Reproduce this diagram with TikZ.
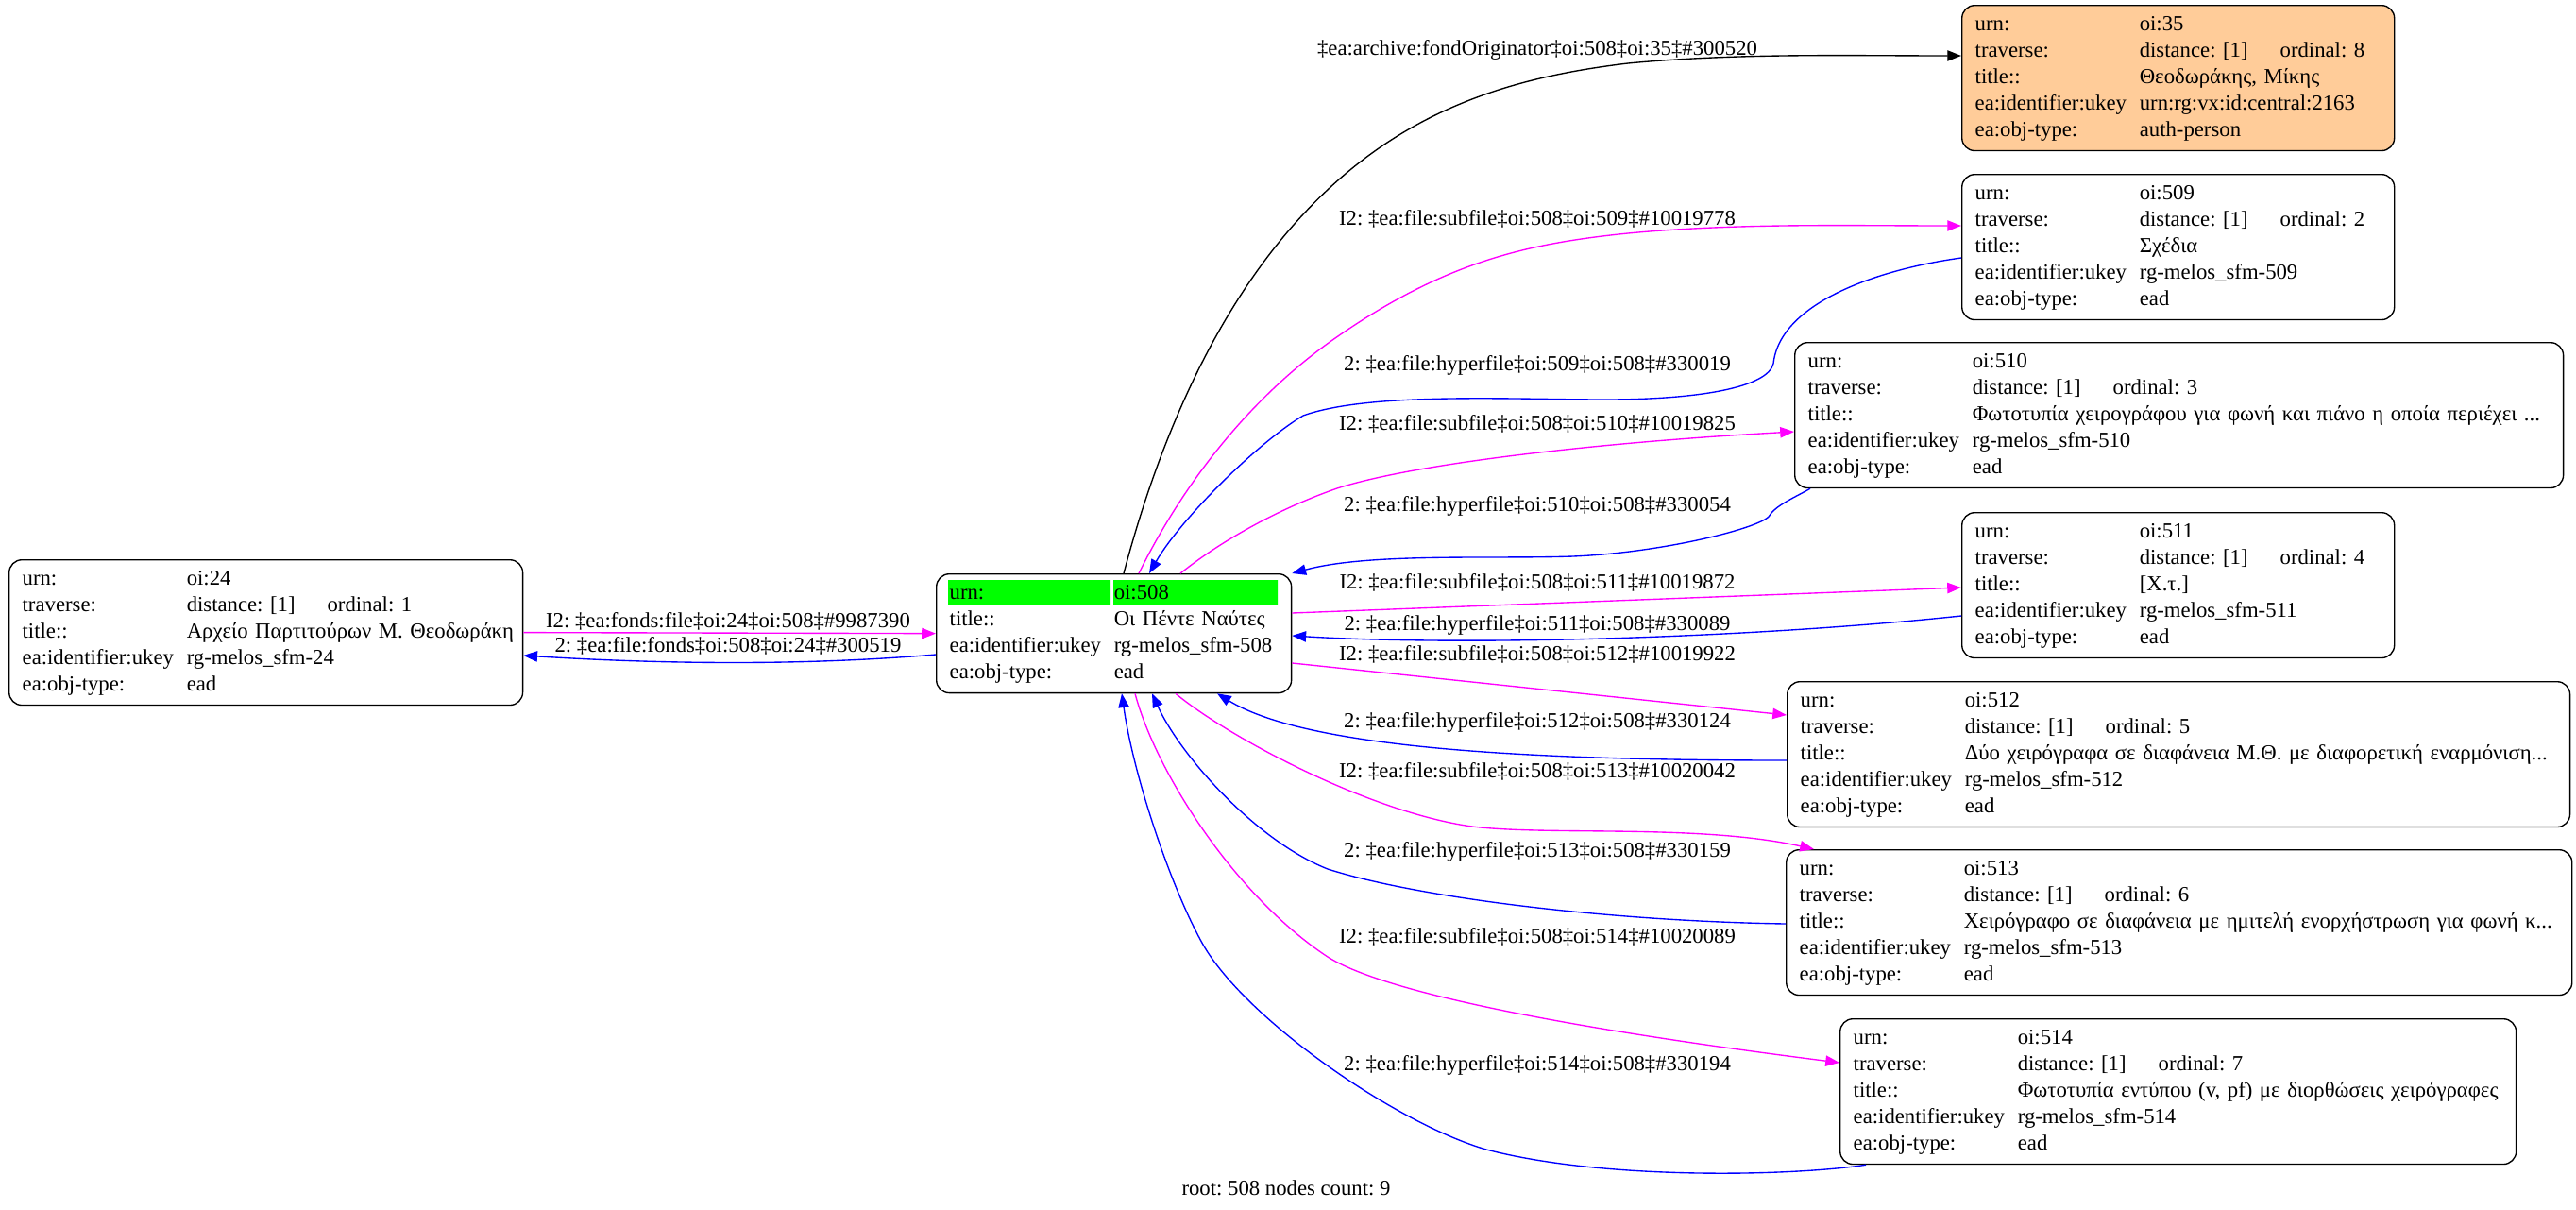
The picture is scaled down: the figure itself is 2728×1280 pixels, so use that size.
\documentclass[tikz,border=0pt]{standalone}
\usepackage{fontspec}
\setmainfont{Liberation Serif}
\usetikzlibrary{arrows.meta}
\definecolor{peach}{RGB}{255,204,153}
\definecolor{subpink}{RGB}{255,0,255}
\definecolor{hyperblue}{RGB}{0,0,255}
\definecolor{rootgreen}{RGB}{0,255,0}
\frenchspacing
\newcommand{\infotab}[5]{\noindent\begin{tabular}{@{}p{76.6pt}@{}l@{}}urn: & #1\\traverse: & \makebox[65.5pt][l]{distance: [1]}ordinal: #2\\title:: & #3\\ea:identifier:ukey & #4\\ea:obj-type: & #5\end{tabular}}
\tikzset{
  oibox/.style={draw,line width=.6pt,rounded corners=6pt,anchor=north west,inner xsep=6.16pt,inner ysep=3.1pt,align=left},
  sub/.style={subpink,line width=.6pt,->},
  hyper/.style={hyperblue,line width=.6pt,->},
  elabel/.style={inner sep=0pt}
}
\begin{document}
\begin{tikzpicture}[x=.44pt,y=-.44pt,>={Triangle[length=6.5pt,width=5pt]},font=\fontsize{10pt}{12.3pt}\selectfont]
\useasboundingbox (0,0) rectangle (2728,1280);
\fill[rootgreen] (1004,614) rectangle (1176,640) (1179,614) rectangle (1353,640);
\node[oibox,text width=227pt] (n24) at (9,592) {\infotab{oi:24}{1}{Αρχείο Παρτιτούρων Μ. Θεοδωράκη}{rg-melos\_sfm-24}{ead}};
\node[oibox,text width=153.1pt] (n508) at (991,607) {\noindent\begin{tabular}{@{}p{76.6pt}@{}l@{}}urn: & oi:508\\title:: & Οι Πέντε Ναύτες\\ea:identifier:ukey & rg-melos\_sfm-508\\ea:obj-type: & ead\end{tabular}};
\node[oibox,fill=peach,text width=189.2pt] (n35) at (2077,5) {\infotab{oi:35}{8}{Θεοδωράκης, Μίκης}{urn:rg:vx:id:central:2163}{auth-person}};
\node[oibox,text width=189.2pt] (n509) at (2077,184) {\infotab{oi:509}{2}{Σχέδια}{rg-melos\_sfm-509}{ead}};
\node[oibox,text width=345.8pt] (n510) at (1900,362) {\infotab{oi:510}{3}{Φωτοτυπία χειρογράφου για φωνή και πιάνο η οποία περιέχει ...}{rg-melos\_sfm-510}{ead}};
\node[oibox,text width=189.2pt] (n511) at (2077,542) {\infotab{oi:511}{4}{[Χ.τ.]}{rg-melos\_sfm-511}{ead}};
\node[oibox,text width=352.4pt] (n512) at (1892,721) {\infotab{oi:512}{5}{Δύο χειρόγραφα σε διαφάνεια Μ.Θ. με διαφορετική εναρμόνιση...}{rg-melos\_sfm-512}{ead}};
\node[oibox,text width=353.8pt] (n513) at (1891,899) {\infotab{oi:513}{6}{Χειρόγραφο σε διαφάνεια με ημιτελή ενορχήστρωση για φωνή κ...}{rg-melos\_sfm-513}{ead}};
\node[oibox,text width=302.7pt] (n514) at (1948,1078) {\infotab{oi:514}{7}{Φωτοτυπία εντύπου (v, pf) με διορθώσεις χειρόγραφες}{rg-melos\_sfm-514}{ead}};
\draw[sub] (n24.east) -- (n508.west);
\draw[hyper] (n508.west |- 0,693) .. controls (850,705) and (700,703) .. (n24.east |- 0,694);
\draw[->,line width=.6pt] (n508.north -| 1190,0) .. controls (1226,471) and (1285,329) .. (1380,227) .. controls (1482,117) and (1598,82) .. (1724,67) .. controls (1840,56) and (1960,59) .. (n35.west |- 0,59);
\draw[sub] (n508.north -| 1206,0) .. controls (1254,510) and (1325,420) .. (1414,358) .. controls (1529,278) and (1615,258) .. (1724,247) .. controls (1840,236) and (1960,239) .. (n509.west |- 0,239);
\draw[hyper] (n509.west |- 0,273) .. controls (1990,285) and (1885,320) .. (1878,385) .. controls (1872,410) and (1800,423) .. (1700,423) .. controls (1600,423) and (1450,415) .. (1380,440) .. controls (1330,470) and (1250,550) .. (n508.north -| 1217,0);
\draw[sub] (n508.north -| 1250,0) .. controls (1290,575) and (1350,540) .. (1416,517) .. controls (1500,490) and (1700,468) .. (n510.west |- 0,457);
\draw[hyper] (n510.south -| 1917,0) .. controls (1900,527) and (1880,535) .. (1873,547) .. controls (1860,560) and (1760,585) .. (1666,589) .. controls (1580,592) and (1450,585) .. (n508.north east);
\draw[sub] (n508.east |- 0,649) -- (n511.west |- 0,622);
\draw[hyper] (n511.west |- 0,652) .. controls (1850,676) and (1550,684) .. (n508.east |- 0,673);
\draw[sub] (n508.east |- 0,702) -- (n512.west |- 0,757);
\draw[hyper] (n512.west |- 0,805) .. controls (1600,805) and (1380,790) .. (n508.south -| 1289,0);
\draw[sub] (n508.south -| 1245,0) .. controls (1300,780) and (1450,860) .. (1559,875) .. controls (1640,885) and (1800,872) .. (n513.north -| 1921,0);
\draw[hyper] (n513.west |- 0,978) .. controls (1700,975) and (1500,950) .. (1406,920) .. controls (1330,890) and (1250,800) .. (n508.south -| 1220,0);
\draw[sub] (n508.south -| 1202,0) .. controls (1225,820) and (1310,950) .. (1406,1013) .. controls (1480,1060) and (1750,1100) .. (n514.west |- 0,1125);
\draw[hyper] (n514.south -| 1976,0) .. controls (1900,1245) and (1700,1250) .. (1574,1217) .. controls (1480,1190) and (1320,1080) .. (1274,1000) .. controls (1240,940) and (1200,820) .. (n508.south -| 1188,0);
\node[elabel] (l24s) at (771,658) {I2: ‡ea:fonds:file‡oi:24‡oi:508‡\#9987390};
\node[elabel] (l24h) at (771,684) {2: ‡ea:file:fonds‡oi:508‡oi:24‡\#300519};
\node[elabel] (l35) at (1628,53) {‡ea:archive:fondOriginator‡oi:508‡oi:35‡\#300520};
\node[elabel] (l509s) at (1628,232) {I2: ‡ea:file:subfile‡oi:508‡oi:509‡\#10019778};
\node[elabel] (l509h) at (1628,387) {2: ‡ea:file:hyperfile‡oi:509‡oi:508‡\#330019};
\node[elabel] (l510s) at (1628,449) {I2: ‡ea:file:subfile‡oi:508‡oi:510‡\#10019825};
\node[elabel] (l510h) at (1628,536) {2: ‡ea:file:hyperfile‡oi:510‡oi:508‡\#330054};
\node[elabel] (l511s) at (1628,617) {I2: ‡ea:file:subfile‡oi:508‡oi:511‡\#10019872};
\node[elabel] (l511h) at (1628,662) {2: ‡ea:file:hyperfile‡oi:511‡oi:508‡\#330089};
\node[elabel] (l512s) at (1628,693) {I2: ‡ea:file:subfile‡oi:508‡oi:512‡\#10019922};
\node[elabel] (l512h) at (1628,765) {2: ‡ea:file:hyperfile‡oi:512‡oi:508‡\#330124};
\node[elabel] (l513s) at (1628,817) {I2: ‡ea:file:subfile‡oi:508‡oi:513‡\#10020042};
\node[elabel] (l513h) at (1628,902) {2: ‡ea:file:hyperfile‡oi:513‡oi:508‡\#330159};
\node[elabel] (l514s) at (1628,992) {I2: ‡ea:file:subfile‡oi:508‡oi:514‡\#10020089};
\node[elabel] (l514h) at (1628,1128) {2: ‡ea:file:hyperfile‡oi:514‡oi:508‡\#330194};
\node[elabel] (root) at (1362,1258) {root: 508 nodes count: 9};
\end{tikzpicture}
\end{document}
